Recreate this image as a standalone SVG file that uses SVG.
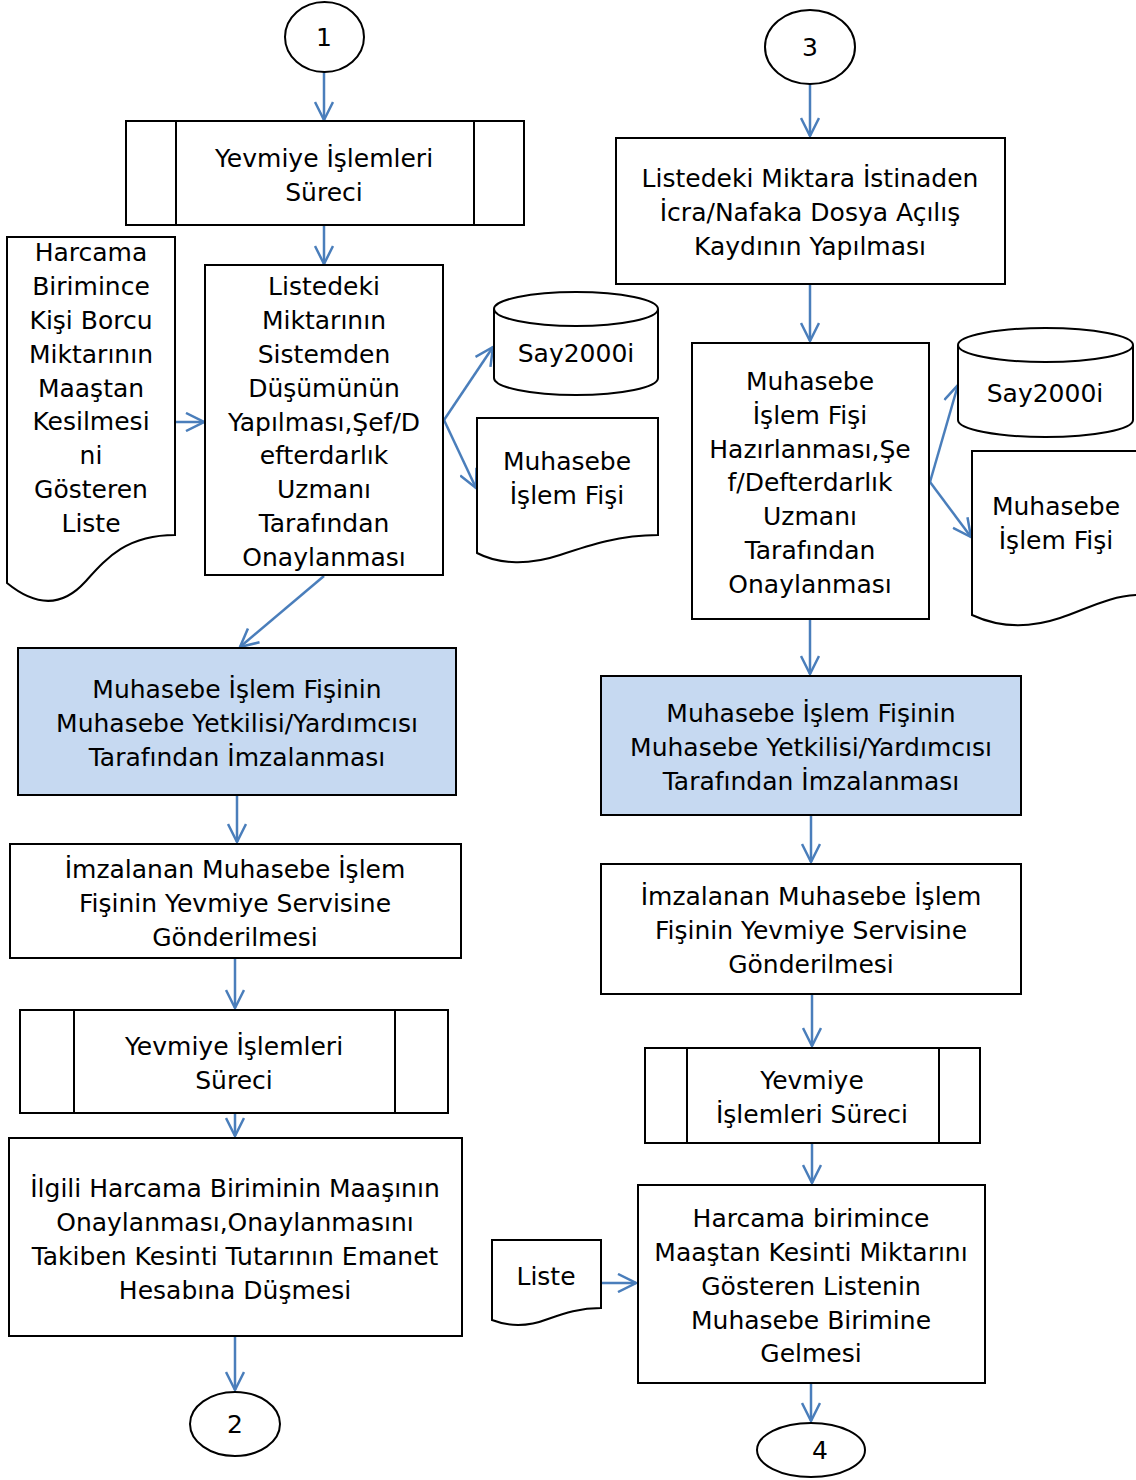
<svg xmlns="http://www.w3.org/2000/svg" width="1136" height="1480" viewBox="0 0 1136 1480">
<style>
.s{fill:#fff;stroke:#000;stroke-width:2}
.b{fill:#C6D9F1;stroke:#000;stroke-width:2}
.l{fill:none;stroke:#000;stroke-width:2}
text{font-family:"DejaVu Sans",sans-serif;font-size:25px;fill:#000;text-anchor:middle}
.c line,.c path{fill:none;stroke:#4A7EBB;stroke-width:2.5;marker-end:url(#a)}
</style>
<defs>
<marker id="a" markerUnits="userSpaceOnUse" viewBox="0 0 21 20" markerWidth="21" markerHeight="20" refX="19" refY="10" orient="auto">
<path d="M1,1 L19,10 L1,19" fill="none" stroke="#4A7EBB" stroke-width="2.5"/>
</marker>
</defs>
<g id="connectors" class="c">
<line x1="324" y1="72" x2="324" y2="120"/>
<line x1="324" y1="226" x2="324" y2="264"/>
<line x1="176" y1="422" x2="204" y2="422"/>
<line x1="444" y1="420" x2="493" y2="347"/>
<line x1="444" y1="420" x2="476" y2="488"/>
<line x1="324" y1="576" x2="240" y2="647"/>
<line x1="237" y1="796" x2="237" y2="842"/>
<line x1="235" y1="959" x2="235" y2="1008"/>
<line x1="235" y1="1114" x2="235" y2="1136"/>
<line x1="235" y1="1337" x2="235" y2="1390"/>
<line x1="810" y1="84" x2="810" y2="136"/>
<line x1="810" y1="285" x2="810" y2="341"/>
<line x1="930" y1="482" x2="958" y2="385"/>
<line x1="930" y1="482" x2="971" y2="537"/>
<line x1="810" y1="620" x2="810" y2="674"/>
<line x1="811" y1="816" x2="811" y2="862"/>
<line x1="812" y1="995" x2="812" y2="1046"/>
<line x1="812" y1="1144" x2="812" y2="1183"/>
<line x1="602" y1="1283" x2="636" y2="1283"/>
<line x1="811" y1="1384" x2="811" y2="1421"/>
</g>
<g id="n1"><ellipse class="s" cx="324.5" cy="37" rx="39.5" ry="35"/><text x="324" y="46">1</text></g>
<g id="n2"><rect class="s" x="126" y="121" width="398" height="104"/><line class="l" x1="176" y1="121" x2="176" y2="225"/><line class="l" x1="474" y1="121" x2="474" y2="225"/><text x="324" y="167">Yevmiye İşlemleri</text><text x="324" y="201">Süreci</text></g>
<g id="n3"><path class="s" d="M7,237 H175 V535 C125,535 105,560 85,582 C65,604 40,610 7,583 Z"/>
<text x="91" y="261">Harcama</text><text x="91" y="295">Birimince</text><text x="91" y="329">Kişi Borcu</text><text x="91" y="363">Miktarının</text><text x="91" y="397">Maaştan</text><text x="91" y="430">Kesilmesi</text><text x="91" y="464">ni</text><text x="91" y="498">Gösteren</text><text x="91" y="532">Liste</text></g>
<g id="n4"><rect class="s" x="205" y="265" width="238" height="310"/>
<text x="324" y="295">Listedeki</text><text x="324" y="329">Miktarının</text><text x="324" y="363">Sistemden</text><text x="324" y="397">Düşümünün</text><text x="324" y="431">Yapılması,Şef/D</text><text x="324" y="464">efterdarlık</text><text x="324" y="498">Uzmanı</text><text x="324" y="532">Tarafından</text><text x="324" y="566">Onaylanması</text></g>
<g id="n5"><path class="s" d="M494,309 V378 A82,17 0 0 0 658,378 V309"/><ellipse class="s" cx="576" cy="309" rx="82" ry="17"/><text x="576" y="362">Say2000i</text></g>
<g id="n6"><path class="s" d="M477,418 H658 V535 C620,535 590,545 560,555 C530,565 500,565 477,553 Z"/><text x="567" y="470">Muhasebe</text><text x="567" y="504">İşlem Fişi</text></g>
<g id="n7"><rect class="b" x="18" y="648" width="438" height="147"/><text x="237" y="698">Muhasebe İşlem Fişinin</text><text x="237" y="732">Muhasebe Yetkilisi/Yardımcısı</text><text x="237" y="766">Tarafından İmzalanması</text></g>
<g id="n8"><rect class="s" x="10" y="844" width="451" height="114"/><text x="235" y="878">İmzalanan Muhasebe İşlem</text><text x="235" y="912">Fişinin Yevmiye Servisine</text><text x="235" y="946">Gönderilmesi</text></g>
<g id="n9"><rect class="s" x="20" y="1010" width="428" height="103"/><line class="l" x1="74" y1="1010" x2="74" y2="1113"/><line class="l" x1="395" y1="1010" x2="395" y2="1113"/><text x="234" y="1055">Yevmiye İşlemleri</text><text x="234" y="1089">Süreci</text></g>
<g id="n10"><rect class="s" x="9" y="1138" width="453" height="198"/><text x="235" y="1197">İlgili Harcama Biriminin Maaşının</text><text x="235" y="1231">Onaylanması,Onaylanmasını</text><text x="235" y="1265">Takiben Kesinti Tutarının Emanet</text><text x="235" y="1299">Hesabına Düşmesi</text></g>
<g id="n11"><ellipse class="s" cx="235" cy="1424" rx="45" ry="32"/><text x="235" y="1433">2</text></g>
<g id="n12"><ellipse class="s" cx="810" cy="47" rx="45" ry="37"/><text x="810" y="56">3</text></g>
<g id="n13"><rect class="s" x="616" y="138" width="389" height="146"/><text x="810" y="187">Listedeki Miktara İstinaden</text><text x="810" y="221">İcra/Nafaka Dosya Açılış</text><text x="810" y="255">Kaydının Yapılması</text></g>
<g id="n14"><rect class="s" x="692" y="343" width="237" height="276"/><text x="810" y="390">Muhasebe</text><text x="810" y="424">İşlem Fişi</text><text x="810" y="458">Hazırlanması,Şe</text><text x="810" y="491">f/Defterdarlık</text><text x="810" y="525">Uzmanı</text><text x="810" y="559">Tarafından</text><text x="810" y="593">Onaylanması</text></g>
<g id="n15"><path class="s" d="M958,345 V420 A87.5,17 0 0 0 1133,420 V345"/><ellipse class="s" cx="1045.5" cy="345" rx="87.5" ry="17"/><text x="1045" y="402">Say2000i</text></g>
<g id="n16"><path class="s" d="M972,451 H1140 V595 C1110,595 1085,610 1060,618 C1030,628 1000,628 972,615 Z"/><text x="1056" y="515">Muhasebe</text><text x="1056" y="549">İşlem Fişi</text></g>
<g id="n17"><rect class="b" x="601" y="676" width="420" height="139"/><text x="811" y="722">Muhasebe İşlem Fişinin</text><text x="811" y="756">Muhasebe Yetkilisi/Yardımcısı</text><text x="811" y="790">Tarafından İmzalanması</text></g>
<g id="n18"><rect class="s" x="601" y="864" width="420" height="130"/><text x="811" y="905">İmzalanan Muhasebe İşlem</text><text x="811" y="939">Fişinin Yevmiye Servisine</text><text x="811" y="973">Gönderilmesi</text></g>
<g id="n19"><rect class="s" x="645" y="1048" width="335" height="95"/><line class="l" x1="687" y1="1048" x2="687" y2="1143"/><line class="l" x1="939" y1="1048" x2="939" y2="1143"/><text x="812" y="1089">Yevmiye</text><text x="812" y="1123">İşlemleri Süreci</text></g>
<g id="n20"><rect class="s" x="638" y="1185" width="347" height="198"/><text x="811" y="1227">Harcama birimince</text><text x="811" y="1261">Maaştan Kesinti Miktarını</text><text x="811" y="1295">Gösteren Listenin</text><text x="811" y="1329">Muhasebe Birimine</text><text x="811" y="1362">Gelmesi</text></g>
<g id="n21"><path class="s" d="M492,1240 H601 V1308 C580,1308 565,1313 548,1319 C530,1326 510,1327 492,1320 Z"/><text x="546" y="1285">Liste</text></g>
<g id="n22"><ellipse class="s" cx="811" cy="1450" rx="54" ry="27"/><text x="820" y="1459">4</text></g>
</svg>
